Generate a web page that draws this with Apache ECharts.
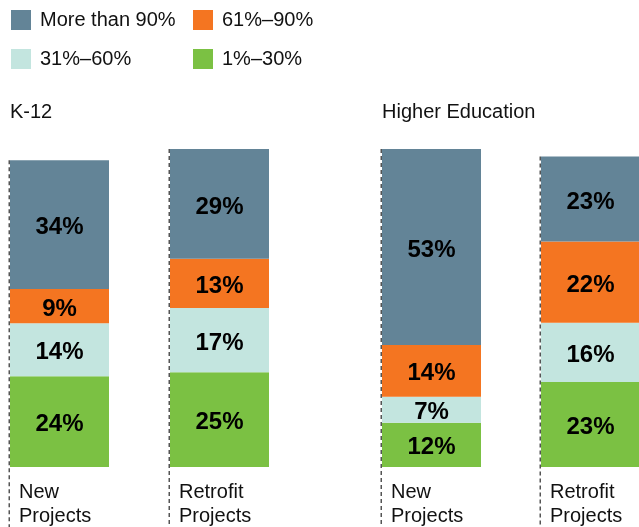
<!DOCTYPE html>
<html>
<head>
<meta charset="utf-8">
<script src="https://cdn.jsdelivr.net/npm/echarts@6/dist/echarts.min.js"></script>
<style>
  html, body { margin: 0; padding: 0; background: #fff; }
  #chart { width: 639px; height: 527px; }
</style>
</head>
<body>
<div id="chart"></div>
<script>
// 分类与数据
const categories = ['New\nProjects', 'Retrofit\nProjects'];
const groups = ['K-12', 'Higher Education'];
const tierNames = ['1%–30%', '31%–60%', '61%–90%', 'More than 90%'];
const tierColors = ['#7bc143', '#c3e5df', '#f47521', '#638497'];

// K-12: [new, retrofit] per tier, from bottom to top
const k12Low = [24, 25];
const k12MidLow = [14, 17];
const k12MidHigh = [9, 13];
const k12High = [34, 29];

// Higher Education
const heLow = [12, 23];
const heMidLow = [7, 16];
const heMidHigh = [14, 22];
const heHigh = [53, 23];

const k12Data = [k12Low, k12MidLow, k12MidHigh, k12High];
const heData = [heLow, heMidLow, heMidHigh, heHigh];

const FONT = '"Liberation Sans", Arial, sans-serif';
const BAR_W = 99;

function totals(data) {
  return categories.map((c, i) => data.reduce((s, arr) => s + arr[i], 0));
}

function barSeries(data, gi) {
  return data.map((vals, t) => ({
    name: tierNames[t],
    type: 'bar',
    stack: 'g' + gi,
    xAxisIndex: gi,
    yAxisIndex: gi,
    barWidth: BAR_W,
    itemStyle: { color: tierColors[t] },
    label: {
      show: true,
      position: 'inside',
      offset: [0, 3],
      formatter: '{c}%',
      color: '#000',
      fontSize: 24,
      fontWeight: 'bold',
      fontFamily: FONT
    },
    data: vals,
    z: 2
  }));
}

// 虚线：每根柱子左侧
function dashSeries(data, gi) {
  const tot = totals(data);
  return {
    type: 'custom',
    xAxisIndex: gi,
    yAxisIndex: gi,
    clip: false,
    silent: true,
    z: 3,
    data: tot.map((v, i) => [i, v]),
    renderItem: function (params, api) {
      const top = api.coord([api.value(0), api.value(1)]);
      const x = top[0] - BAR_W / 2 - 0.75;
      return {
        type: 'line',
        shape: { x1: x, y1: top[1], x2: x, y2: api.getHeight() },
        style: { stroke: '#555', lineWidth: 1.5, lineDash: [4, 3] }
      };
    }
  };
}

const chart = echarts.init(document.getElementById('chart'));
const axisLabel = {
  show: true,
  margin: 13,
  formatter: function (v) {
    return v.split('\n').map(s => '{a|' + s + '}').join('\n');
  },
  rich: {
    a: { width: 81, align: 'left', fontSize: 20, lineHeight: 24, color: '#111', fontFamily: FONT }
  }
};

chart.setOption({
  animation: false,
  title: [
    { text: groups[0], left: 10, top: 101, padding: 0,
      textStyle: { fontSize: 20, fontWeight: 'normal', color: '#111', fontFamily: FONT, lineHeight: 22 } },
    { text: groups[1], left: 382, top: 101, padding: 0,
      textStyle: { fontSize: 20, fontWeight: 'normal', color: '#111', fontFamily: FONT, lineHeight: 22 } }
  ],
  legend: [
    {
      data: ['More than 90%', '31%–60%'],
      orient: 'vertical', left: 11, top: 10, padding: 0,
      itemWidth: 20, itemHeight: 20, itemGap: 19, icon: 'rect',
      textStyle: { fontSize: 20, color: '#111', fontFamily: FONT, padding: [2, 0, 0, 4] }
    },
    {
      data: ['61%–90%', '1%–30%'],
      orient: 'vertical', left: 193, top: 10, padding: 0,
      itemWidth: 20, itemHeight: 20, itemGap: 19, icon: 'rect',
      textStyle: { fontSize: 20, color: '#111', fontFamily: FONT, padding: [2, 0, 0, 4] }
    }
  ],
  grid: [
    { left: -20.5, width: 320, top: 149, bottom: 60, outerBoundsMode: 'none', containLabel: false },
    { left: 352, width: 318, top: 149, bottom: 60, outerBoundsMode: 'none', containLabel: false }
  ],
  xAxis: [0, 1].map(gi => ({
    type: 'category',
    gridIndex: gi,
    data: categories,
    axisLine: { show: false },
    axisTick: { show: false },
    axisLabel: axisLabel
  })),
  yAxis: [
    { type: 'value', gridIndex: 0, min: 0, max: 84, show: false },
    { type: 'value', gridIndex: 1, min: 0, max: 86, show: false }
  ],
  series: [
    ...barSeries(k12Data, 0),
    ...barSeries(heData, 1),
    dashSeries(k12Data, 0),
    dashSeries(heData, 1)
  ]
});
</script>
</body>
</html>
